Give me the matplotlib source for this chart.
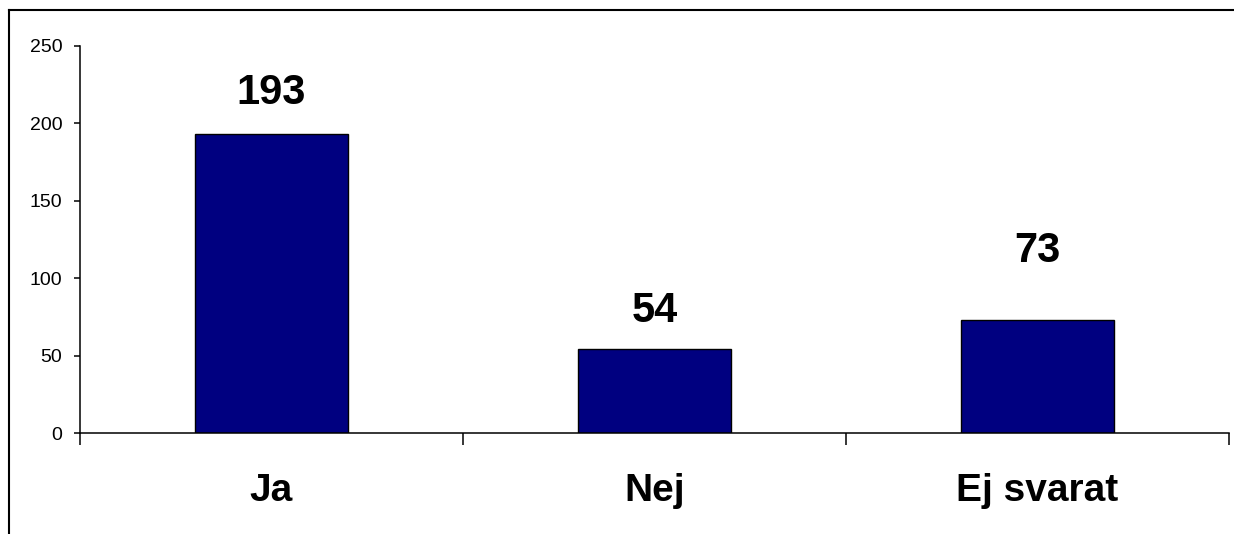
import matplotlib.pyplot as plt
from matplotlib.lines import Line2D

categories = ["Ja", "Nej", "Ej svarat"]
counts = [193, 54, 73]
yticks = [0, 50, 100, 150, 200, 250]

# vertical offset (points) of each count label above its bar
label_offsets = [29.5, 28, 50]

plt.rcParams["font.family"] = ["Liberation Sans", "DejaVu Sans"]

fig = plt.figure(figsize=(12.34, 5.34), dpi=100)
ax = fig.add_axes([80 / 1234, 1 - 433 / 534, 1149 / 1234, 387 / 534])

x = list(range(len(categories)))
ax.bar(x, counts, width=0.4, color="#000080", edgecolor="black", linewidth=1.0)

for xi, val, off in zip(x, counts, label_offsets):
    ax.annotate(str(val), (xi, val), xytext=(0, off), textcoords="offset points",
                ha="center", va="center", fontsize=30, fontweight="bold")

ax.set_xlim(-0.5, len(categories) - 0.5)
ax.set_ylim(0, 250)
ax.set_yticks(yticks)
ax.tick_params(axis="y", direction="out", length=4.3, width=1.1, pad=8.5,
               labelsize=14)

# category names centred, tick marks on the boundaries
ax.set_xticks(x)
ax.set_xticklabels(categories, fontsize=28, fontweight="bold")
ax.tick_params(axis="x", which="major", length=0, pad=29)
ax.set_xticks([i - 0.5 for i in range(len(categories) + 1)], minor=True)
ax.tick_params(axis="x", which="minor", direction="out", length=8.6, width=1.1)

for side in ("top", "right"):
    ax.spines[side].set_visible(False)
for side in ("left", "bottom"):
    ax.spines[side].set_linewidth(1.1)

# outer chart frame (open to the right and bottom)
W, H = 1234, 534
fig.add_artist(Line2D([8.5 / W, 8.5 / W], [0, 1 - 10 / H], transform=fig.transFigure,
                      color="black", linewidth=1.5))
fig.add_artist(Line2D([8.5 / W, 1], [1 - 10 / H, 1 - 10 / H], transform=fig.transFigure,
                      color="black", linewidth=1.5))

fig.savefig("out.png", dpi=100)
